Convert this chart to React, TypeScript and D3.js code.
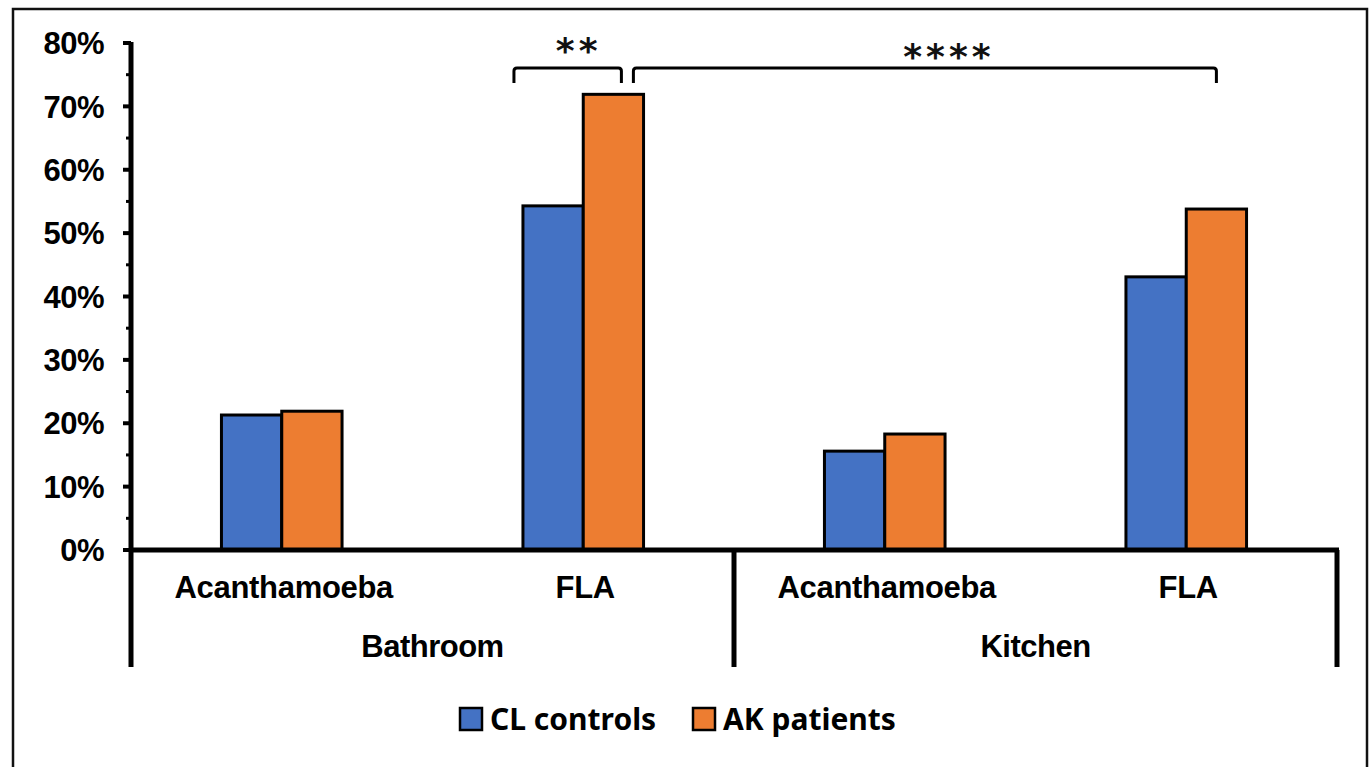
import * as d3 from 'd3';

const groups = ['Bathroom', 'Kitchen'];
const organisms = ['Acanthamoeba', 'FLA'];
const seriesNames = ['CL controls', 'AK patients'];
const seriesColors = ['#4472C4', '#ED7D31'];
// percent positive, in order Bathroom/Acanthamoeba, Bathroom/FLA, Kitchen/Acanthamoeba, Kitchen/FLA
const clControls = [21.3, 54.3, 15.6, 43.1];
const akPatients = [21.9, 71.9, 18.3, 53.8];
const yTicks = [0, 10, 20, 30, 40, 50, 60, 70, 80];
const yMinorTicks = [5, 15, 25, 35, 45, 55, 65, 75];
// significance brackets: [category index, series index] at each end
const sigLabels = ['**', '****'];
const sigFrom: [number, number][] = [[1, 0], [1, 1]];
const sigTo: [number, number][] = [[1, 1], [3, 1]];

const W = 1371;
const H = 767;
const margin = { top: 43, right: 34, bottom: 217, left: 131 };

export default function App() {
  const categories = groups.flatMap((g) => organisms.map((o) => `${g}|${o}`));
  const values = [clControls, akPatients];

  const x0 = d3.scaleBand<string>()
    .domain(categories)
    .range([margin.left, W - margin.right])
    .padding(0);
  const bw = x0.bandwidth();
  const x1 = d3.scaleBand<string>()
    .domain(seriesNames)
    .range([bw * 0.3, bw * 0.7])
    .padding(0);
  const y = d3.scaleLinear().domain([0, 80]).range([H - margin.bottom, margin.top]);
  const y0 = y(0);

  const groupScale = d3.scaleBand<string>()
    .domain(groups)
    .range([margin.left, W - margin.right]);

  const sans = '"Liberation Sans", Arial, sans-serif';
  const legendFont = '"Noto Sans", "Open Sans", sans-serif';

  const barX = (c: number, s: number) => (x0(categories[c]) ?? 0) + (x1(seriesNames[s]) ?? 0);
  const barCenter = (c: number, s: number) => barX(c, s) + x1.bandwidth() / 2;

  // nudges so the bracket ends sit where the original figure drew them
  const nudgeFrom = [-x1.bandwidth() / 2 - 9, 20];
  const nudgeTo = [8, 0];
  const bracketTop = 68;
  const bracketDrop = 15;
  const sigTextY = [63, 69];

  const divider = 117;

  return (
    <svg width={W} height={H} style={{ position: 'absolute', left: 0, top: 0, background: '#fff' }}>
      <rect x={13} y={9} width={1354} height={770} fill="none" stroke="#111" strokeWidth={2.5} />

      {/* bars */}
      {values.map((vals, s) =>
        vals.map((v, c) => (
          <rect
            key={`${s}-${c}`}
            x={barX(c, s)}
            y={y(v)}
            width={x1.bandwidth()}
            height={y0 - y(v)}
            fill={seriesColors[s]}
            stroke="#000"
            strokeWidth={3}
          />
        ))
      )}

      {/* y axis */}
      <line x1={margin.left} x2={margin.left} y1={y(80) - 1} y2={y0 + divider} stroke="#000" strokeWidth={5} />
      {yTicks.map((t) => (
        <g key={t}>
          <line x1={margin.left - 8} x2={margin.left} y1={y(t)} y2={y(t)} stroke="#000" strokeWidth={4} />
          <text
            x={104}
            y={y(t)}
            dy="0.36em"
            textAnchor="end"
            fontFamily={sans}
            fontWeight="bold"
            fontSize={31}
            letterSpacing={-0.5}
            fill="#000"
          >
            {t}%
          </text>
        </g>
      ))}
      {yMinorTicks.map((t) => (
        <line key={t} x1={margin.left - 5} x2={margin.left} y1={y(t)} y2={y(t)} stroke="#000" strokeWidth={3} />
      ))}

      {/* x axis */}
      <line x1={margin.left} x2={W - margin.right + 2} y1={y0} y2={y0} stroke="#000" strokeWidth={5} />
      {groups.map((g, i) => {
        const gx = groupScale(g) ?? 0;
        return (
          <g key={g}>
            {i > 0 && (
              <line x1={gx} x2={gx} y1={y0} y2={y0 + divider} stroke="#000" strokeWidth={5} />
            )}
            <text
              x={gx + groupScale.bandwidth() / 2}
              y={y0 + 107}
              textAnchor="middle"
              fontFamily={sans}
              fontWeight="bold"
              fontSize={31}
              letterSpacing={-0.5}
            >
              {g}
            </text>
          </g>
        );
      })}
      <line x1={W - margin.right} x2={W - margin.right} y1={y0} y2={y0 + divider} stroke="#000" strokeWidth={5} />
      {categories.map((c) => (
        <text
          key={c}
          x={(x0(c) ?? 0) + bw / 2 + 2}
          y={y0 + 48}
          textAnchor="middle"
          fontFamily={sans}
          fontWeight="bold"
          fontSize={31}
          letterSpacing={-0.3}
        >
          {c.split('|')[1]}
        </text>
      ))}

      {/* significance brackets */}
      {sigLabels.map((label, i) => {
        const xa = barCenter(sigFrom[i][0], sigFrom[i][1]) + nudgeFrom[i];
        const xb = barCenter(sigTo[i][0], sigTo[i][1]) + nudgeTo[i];
        const path = d3.path();
        path.moveTo(xa, bracketTop + bracketDrop);
        path.lineTo(xa, bracketTop + 3);
        path.quadraticCurveTo(xa, bracketTop, xa + 3, bracketTop);
        path.lineTo(xb - 3, bracketTop);
        path.quadraticCurveTo(xb, bracketTop, xb, bracketTop + 3);
        path.lineTo(xb, bracketTop + bracketDrop);
        return (
          <g key={label}>
            <path d={path.toString()} fill="none" stroke="#000" strokeWidth={3} />
            <text
              x={i === 0 ? (xa + xb) / 2 + 11 : (xa + xb) / 2 + 24}
              y={sigTextY[i]}
              textAnchor="middle"
              fontFamily='"DejaVu Sans", sans-serif'
              fontWeight="bold"
              fontSize={36}
              letterSpacing={4}
              fill="#111"
            >
              {label}
            </text>
          </g>
        );
      })}

      {/* legend */}
      {seriesNames.map((name, i) => {
        const lx = [460, 693][i];
        return (
          <g key={name}>
            <rect x={lx} y={708} width={22} height={22} fill={seriesColors[i]} stroke="#000" strokeWidth={2.5} />
            <text x={lx + 30} y={730} fontFamily={legendFont} fontWeight="bold" fontSize={30} fill="#000">
              {name}
            </text>
          </g>
        );
      })}
    </svg>
  );
}
